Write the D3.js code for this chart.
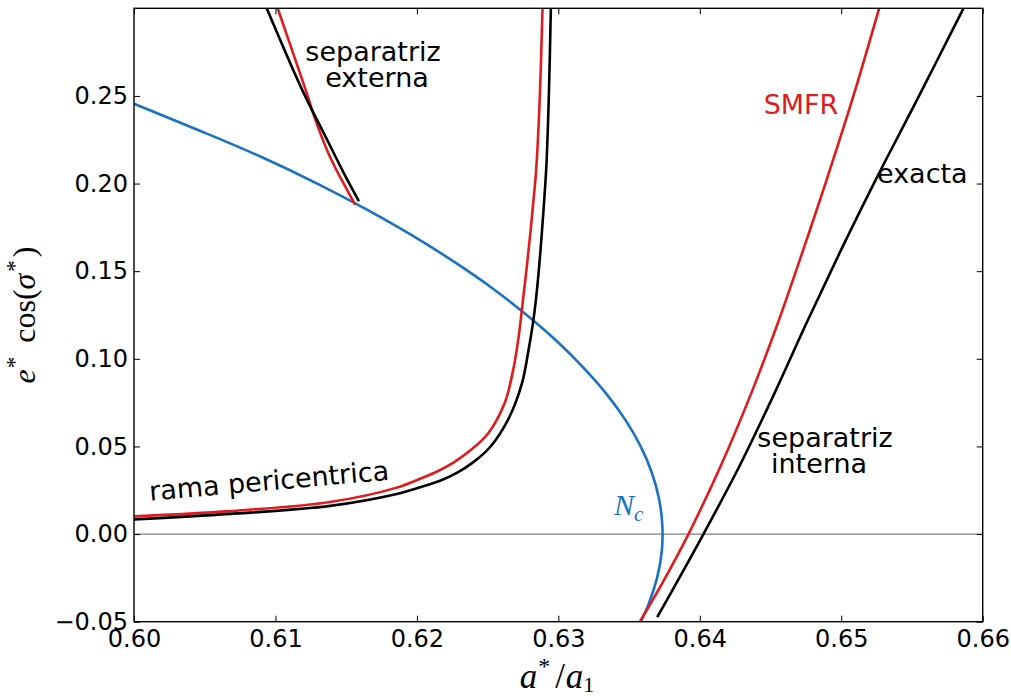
<!DOCTYPE html>
<html>
<head>
<meta charset="utf-8">
<script src="https://cdn.jsdelivr.net/npm/d3@7"></script>
<style>
  html, body { margin: 0; padding: 0; background: #ffffff; }
  svg { display: block; }
</style>
</head>
<body>
<script>
// Axis ticks
const xTicks = [0.60, 0.61, 0.62, 0.63, 0.64, 0.65, 0.66];
const yTicks = [-0.05, 0.00, 0.05, 0.10, 0.15, 0.20, 0.25];

// N_c curve (ordered from top to bottom)
const ncA = [0.60000, 0.60470, 0.60905, 0.61295, 0.61650, 0.61975, 0.62270, 0.62538, 0.62776, 0.62990, 0.63177, 0.63340, 0.63475, 0.63582, 0.63661, 0.63712, 0.63735, 0.63731, 0.63698, 0.63638, 0.63582];
const ncE = [0.2455, 0.2300, 0.2150, 0.2000, 0.1850, 0.1700, 0.1550, 0.1400, 0.1250, 0.1100, 0.0950, 0.0800, 0.0650, 0.0500, 0.0350, 0.0200, 0.0050, -0.0100, -0.0250, -0.0400, -0.0500];

// Pericentric branch: exact and SMFR
const periExactA = [0.60000, 0.60679, 0.61386, 0.61858, 0.62023, 0.62164, 0.62282, 0.62397, 0.62518, 0.62654, 0.62742, 0.62789, 0.62820, 0.62841, 0.62864, 0.62883, 0.62900, 0.62915, 0.62932, 0.62947];
const periExactE = [0.0084, 0.0115, 0.0161, 0.0229, 0.0267, 0.0304, 0.0349, 0.0409, 0.0497, 0.0668, 0.0858, 0.1049, 0.1201, 0.1334, 0.1524, 0.1715, 0.1905, 0.2095, 0.2475, 0.2999];
const periSmfrA = [0.60000, 0.60679, 0.61386, 0.61858, 0.62023, 0.62143, 0.62258, 0.62383, 0.62506, 0.62620, 0.62680, 0.62719, 0.62747, 0.62774, 0.62799, 0.62822, 0.62843, 0.62868, 0.62888];
const periSmfrE = [0.0101, 0.0131, 0.0183, 0.0265, 0.0316, 0.0357, 0.0408, 0.0481, 0.0577, 0.0746, 0.0934, 0.1124, 0.1315, 0.1505, 0.1695, 0.1886, 0.2076, 0.2475, 0.2999];

// External separatrix: exact and SMFR
const extExactA = [0.60939, 0.61190, 0.61367, 0.61485, 0.61590];
const extExactE = [0.2999, 0.2533, 0.2247, 0.2057, 0.1900];
const extSmfrA = [0.61016, 0.61214, 0.61292, 0.61386, 0.61508, 0.61563];
const extSmfrE = [0.2999, 0.2533, 0.2342, 0.2152, 0.1961, 0.1880];

// Internal separatrix: exact and SMFR
const intExactA = [0.63699, 0.63862, 0.64026, 0.64288, 0.64526, 0.64752, 0.64986, 0.65230, 0.65550, 0.65864];
const intExactE = [-0.0474, -0.0240, 0.0000, 0.0400, 0.0800, 0.1200, 0.1600, 0.2000, 0.2500, 0.3000];
const intSmfrA = [0.63577, 0.63735, 0.63920, 0.64154, 0.64362, 0.64550, 0.64722, 0.64888, 0.65086, 0.65268];
const intSmfrE = [-0.0500, -0.0280, 0.0000, 0.0400, 0.0800, 0.1200, 0.1600, 0.2000, 0.2500, 0.3000];

const RED = "#e31a1c", BLUE = "#1a72c4", BLACK = "#000000";

const W = 1011, H = 696;
const plot = { left: 134, right: 982.7, top: 8.3, bottom: 621.7 };

const x = d3.scaleLinear().domain([0.60, 0.66]).range([plot.left, plot.right]);
const y = d3.scaleLinear().domain([-0.05, 0.30]).range([plot.bottom, plot.top]);

const svg = d3.select("body").append("svg")
  .attr("width", W).attr("height", H)
  .attr("viewBox", `0 0 ${W} ${H}`);

svg.append("rect").attr("width", W).attr("height", H).attr("fill", "#fff");

svg.append("defs").append("clipPath").attr("id", "plotclip")
  .append("rect")
  .attr("x", plot.left).attr("y", plot.top)
  .attr("width", plot.right - plot.left).attr("height", plot.bottom - plot.top);

const zip = (a, e) => a.map((v, i) => [v, e[i]]);
const line = d3.line().x(d => x(d[0])).y(d => y(d[1])).curve(d3.curveCatmullRom.alpha(0.5));

const g = svg.append("g").attr("clip-path", "url(#plotclip)");

// zero reference line
g.append("line")
  .attr("x1", x(0.60)).attr("x2", x(0.66))
  .attr("y1", y(0)).attr("y2", y(0))
  .attr("stroke", "#808080").attr("stroke-width", 1.3);

const series = [
  { data: zip(ncA, ncE), color: BLUE },
  { data: zip(periSmfrA, periSmfrE), color: RED },
  { data: zip(extSmfrA, extSmfrE), color: RED },
  { data: zip(intSmfrA, intSmfrE), color: RED },
  { data: zip(periExactA, periExactE), color: BLACK },
  { data: zip(extExactA, extExactE), color: BLACK },
  { data: zip(intExactA, intExactE), color: BLACK }
];

g.selectAll("path.curve").data(series).join("path")
  .attr("class", "curve")
  .attr("d", d => line(d.data))
  .attr("fill", "none")
  .attr("stroke", d => d.color)
  .attr("stroke-width", 2.6)
  .attr("stroke-linejoin", "round");

// Axes with inward ticks on all four sides
const fmt = d3.format(".2f");
const tickFont = "'DejaVu Sans', sans-serif";

function styleAxis(sel) {
  sel.select(".domain").remove();
  sel.selectAll(".tick line").attr("stroke", "#000").attr("stroke-width", 1);
  sel.selectAll(".tick text")
    .attr("fill", "#000")
    .style("font-family", tickFont)
    .style("font-size", "24px");
}

svg.append("g").attr("transform", `translate(0,${plot.bottom})`)
  .call(d3.axisBottom(x).tickValues(xTicks).tickSize(-6).tickPadding(8).tickFormat(fmt))
  .call(styleAxis);
svg.append("g").attr("transform", `translate(0,${plot.top})`)
  .call(d3.axisTop(x).tickValues(xTicks).tickSize(-6).tickFormat(""))
  .call(styleAxis);
svg.append("g").attr("transform", `translate(${plot.left},0)`)
  .call(d3.axisLeft(y).tickValues(yTicks).tickSize(-6).tickPadding(6).tickFormat(fmt))
  .call(styleAxis);
svg.append("g").attr("transform", `translate(${plot.right},0)`)
  .call(d3.axisRight(y).tickValues(yTicks).tickSize(-6).tickFormat(""))
  .call(styleAxis);

svg.append("rect")
  .attr("x", plot.left).attr("y", plot.top)
  .attr("width", plot.right - plot.left).attr("height", plot.bottom - plot.top)
  .attr("fill", "none").attr("stroke", "#000").attr("stroke-width", 1.4);

// Annotations
const annFont = "'DejaVu Sans', sans-serif";
function ann(txt, cx, by, color, anchor) {
  svg.append("text")
    .attr("x", cx).attr("y", by)
    .attr("text-anchor", anchor || "middle")
    .attr("fill", color || "#000")
    .style("font-family", annFont)
    .style("font-size", "27px")
    .text(txt);
}
ann("separatriz", 373, 60.5);
ann("externa", 377, 87.3);
ann("SMFR", 801, 114, RED);
ann("exacta", 877, 183.3, "#000", "start");
ann("separatriz", 825, 446.7);
ann("interna", 819, 472.7);

svg.append("text")
  .attr("transform", "translate(150,500.7) rotate(-5)")
  .attr("fill", "#000")
  .style("font-family", annFont)
  .style("font-size", "27px")
  .text("rama pericentrica");

// Math-style labels
const mathFont = "'Liberation Serif', 'DejaVu Serif', serif";

const nc = svg.append("text")
  .attr("x", 614).attr("y", 515)
  .attr("fill", BLUE)
  .style("font-family", mathFont)
  .style("font-size", "30px");
nc.append("tspan").style("font-style", "italic").text("N");
nc.append("tspan").attr("dy", 6).style("font-style", "italic").style("font-size", "21px").text("c");

const xl = svg.append("text")
  .attr("x", 557).attr("y", 688)
  .attr("text-anchor", "middle")
  .attr("fill", "#000")
  .style("font-family", mathFont)
  .style("font-size", "35px");
xl.append("tspan").style("font-style", "italic").text("a");
xl.append("tspan").attr("dy", -14).attr("dx", 1).style("font-size", "24px").text("*");
xl.append("tspan").attr("dy", 14).attr("dx", 5).text("/");
xl.append("tspan").attr("dx", 1).style("font-style", "italic").text("a");
xl.append("tspan").attr("dy", 4).style("font-size", "22px").text("1");

const yl = svg.append("text")
  .attr("transform", "translate(35,315) rotate(-90)")
  .attr("text-anchor", "middle")
  .attr("fill", "#000")
  .style("font-family", mathFont)
  .style("font-size", "32px");
yl.append("tspan").style("font-style", "italic").text("e");
yl.append("tspan").attr("dy", -13).attr("dx", 1).style("font-size", "23px").text("*");
yl.append("tspan").attr("dy", 13).attr("dx", 14).text("cos(");
yl.append("tspan").style("font-style", "italic").text("σ");
yl.append("tspan").attr("dy", -13).attr("dx", 2).style("font-size", "23px").text("*");
yl.append("tspan").attr("dy", 13).attr("dx", 3).text(")");
</script>
</body>
</html>
